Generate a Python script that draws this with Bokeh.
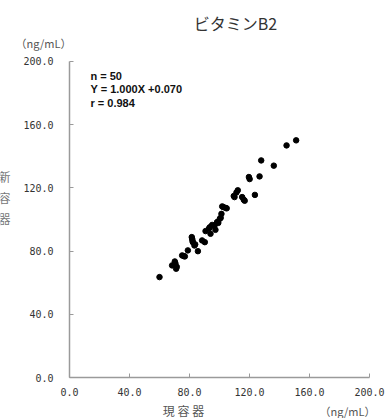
from bokeh.plotting import figure
from bokeh.models import Range1d, Label, FixedTicker, ColumnDataSource, LinearAxis
from bokeh.embed import file_html
from bokeh.resources import INLINE

title_text = "ビタミンB2"
x_label = "現 容 器"
y_label = "新\n容\n器"
unit_text = "（ng/mL）"
stats_lines = ["n = 50", "Y = 1.000X +0.070", "r = 0.984"]

tick_values = [0, 40, 80, 120, 160, 200]
tick_labels = ["0.0", "40.0", "80.0", "120.0", "160.0", "200.0"]

x_vals = [60.0, 68.4, 70.2, 71.1, 70.6, 71.5, 75.1, 76.9, 76.2, 78.9,
          81.8, 82.2, 82.0, 81.5, 83.3, 83.8, 85.6, 88.4, 90.2, 90.7,
          93.6, 93.0, 94.0, 96.7, 95.1, 97.3, 98.4, 99.2, 100.2, 100.8,
          101.3, 101.8, 102.5, 104.0, 104.8, 110.0, 109.5, 112.2, 111.3, 115.1,
          116.2, 116.8, 119.6, 120.1, 123.6, 126.7, 127.8, 136.2, 144.7, 151.1]
y_vals = [63.5, 70.9, 73.4, 68.8, 72.2, 70.0, 77.2, 76.6, 76.8, 80.4,
          87.7, 85.6, 86.5, 88.8, 83.5, 84.2, 79.9, 86.7, 85.6, 92.6,
          95.1, 94.3, 90.9, 96.2, 96.5, 93.4, 98.3, 97.8, 100.4, 101.0,
          103.5, 108.2, 107.8, 107.3, 107.0, 114.1, 114.8, 118.4, 117.0, 114.1,
          112.4, 111.8, 126.8, 125.5, 115.5, 127.2, 137.3, 134.0, 146.8, 150.0]

src = ColumnDataSource(dict(x=x_vals, y=y_vals))

W, H = 390, 418
x0_px, sx = 69.0, 1.5      # pixel of x=0, pixels per unit
y0_px, sy = 377.0, 1.581   # pixel of y=0 (from top), pixels per unit

p = figure(width=W, height=H, output_backend="svg", toolbar_location=None,
           title=None, x_axis_location=None, y_axis_location=None,
           x_range=Range1d(-x0_px / sx, (W - x0_px) / sx),
           y_range=Range1d(-(H - y0_px) / sy, y0_px / sy),
           min_border=0)
p.outline_line_color = None
p.grid.visible = False
p.background_fill_color = "white"
p.border_fill_color = "white"

xax = LinearAxis(fixed_location=0)
yax = LinearAxis(fixed_location=0)
p.add_layout(xax, "below")
p.add_layout(yax, "left")

for ax in (xax, yax):
    ax.bounds = (0, 200)
    ax.ticker = FixedTicker(ticks=tick_values)
    ax.axis_line_color = "#9a9a9a"
    ax.axis_line_width = 1.5
    ax.major_tick_line_color = "#9a9a9a"
    ax.major_tick_in = 4
    ax.major_tick_out = 0
    ax.minor_tick_line_color = None
    ax.major_label_text_font = "DejaVu Sans Mono"
    ax.major_label_text_font_size = "10px"
    ax.major_label_text_color = "#333333"
    ax.major_label_overrides = {v: l for v, l in zip(tick_values, tick_labels)}

xax.major_label_standoff = 10
yax.major_label_standoff = 16

p.scatter("x", "y", source=src, size=5.5, color="black")

def add_label(x, y, text, font, size, color="#222222", align="center",
              baseline="middle", style="normal", line_height=1.2):
    p.add_layout(Label(x=x, y=y, text=text, text_font=font, text_font_size=size,
                       text_color=color, text_align=align, text_baseline=baseline,
                       text_font_style=style, text_line_height=line_height,
                       level="overlay"))

add_label(110.7, 224.5, title_text, "Noto Sans CJK JP", "16px", color="#333333")
add_label(-17.3, 211.3, unit_text, "Noto Sans CJK JP", "11px", color="#555555")
add_label(185.3, -20.9, unit_text, "Noto Sans CJK JP", "11px", color="#555555")
add_label(76, -20.9, x_label, "Noto Sans CJK JP", "12px", color="#555555")
add_label(-43.3, 113.9, y_label, "Noto Sans CJK JP", "12px", color="#777777",
          line_height=1.25)
for i, (line, yy) in enumerate(zip(stats_lines, [190.4, 182.2, 173.9])):
    add_label(14, yy, line, "Liberation Sans", "11px",
              color="#111111", align="left", style="bold")

open("out.html", "w").write(file_html(p, INLINE))
